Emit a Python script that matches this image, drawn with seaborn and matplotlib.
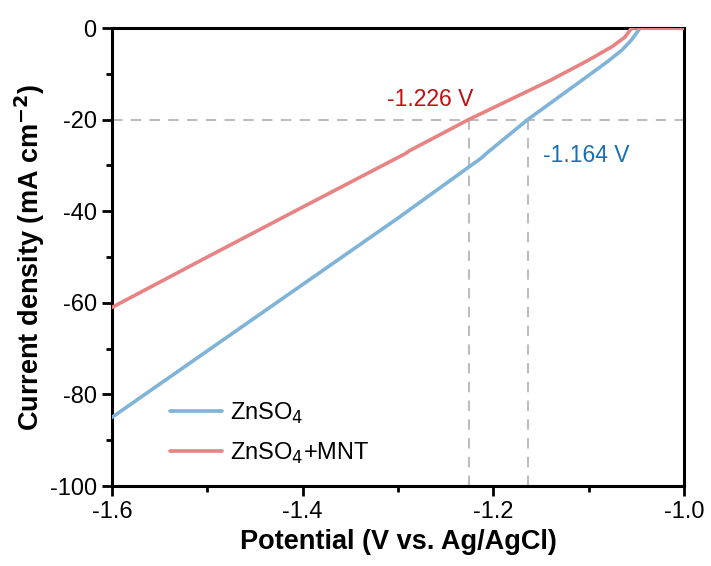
import matplotlib
matplotlib.use("Agg")
import matplotlib.pyplot as plt
import seaborn as sns
import pandas as pd
from matplotlib.ticker import MultipleLocator, FuncFormatter

sns.set_theme(style="white")
plt.rcParams['font.family'] = ['Liberation Sans', 'DejaVu Sans']

# ZnSO4
v_zn = [-1.600, -1.500, -1.400, -1.300, -1.212, -1.208, -1.164, -1.107, -1.080, -1.065, -1.055, -1.046, -1.000]
j_zn = [-85.0, -70.5, -56.0, -41.5, -28.3, -27.5, -20.0, -11.4, -7.3, -4.8, -2.6, 0.0, 0.0]
# ZnSO4+MNT
v_mnt = [-1.600, -1.500, -1.400, -1.292, -1.288, -1.226, -1.140, -1.100, -1.075, -1.062, -1.055, -1.000]
j_mnt = [-61.0, -50.0, -39.1, -27.4, -26.8, -20.0, -11.4, -7.0, -4.0, -2.0, 0.0, 0.0]

labels = ["ZnSO$_4$", "ZnSO$_4$+MNT"]
onset = [-1.164, -1.226]
onset_text = ["-1.164 V", "-1.226 V"]
ref_j = -20

df = pd.concat([
    pd.DataFrame({"V": v_zn, "J": j_zn, "s": labels[0]}),
    pd.DataFrame({"V": v_mnt, "J": j_mnt, "s": labels[1]}),
])

fig = plt.figure(figsize=(7.11, 5.66), dpi=100)
ax = fig.add_axes([0.1575, 0.1413, 0.8045, 0.8092])

grey = "#bdbdbd"
ax.axhline(ref_j, color=grey, lw=1.5, ls=(0, (5, 4)), zorder=1)
for v in onset:
    ax.plot([v, v], [-100, ref_j], color=grey, lw=1.5, ls=(0, (5, 4)), zorder=1)

sns.lineplot(data=df, x="V", y="J", hue="s", palette=["#7fb4d8", "#e88384"],
             linewidth=2.6, ax=ax, sort=False, estimator=None, zorder=3)

ax.set_xlim(-1.6, -1.0)
ax.set_ylim(-100, 0)
ax.xaxis.set_major_locator(MultipleLocator(0.2))
ax.xaxis.set_minor_locator(MultipleLocator(0.1))
ax.yaxis.set_major_locator(MultipleLocator(20))
ax.yaxis.set_minor_locator(MultipleLocator(10))
ax.tick_params(which="major", direction="out", length=7, width=2, labelsize=17, bottom=True, left=True,
               pad=4, colors="black", labelcolor="black")
ax.tick_params(which="minor", direction="out", length=4, width=2, bottom=True, left=True, colors="black")
for s in ax.spines.values():
    s.set_linewidth(2.2)
    s.set_color("black")
ax.xaxis.set_major_formatter(FuncFormatter(lambda x, p: f"{x:.1f}"))
ax.yaxis.set_major_formatter(FuncFormatter(lambda x, p: f"{x:.0f}"))

ax.set_xlabel("Potential (V vs. Ag/AgCl)", fontsize=19.5, fontweight="bold", labelpad=4, color="black")
ax.set_ylabel("Current density (mA cm$^{\\mathbf{-2}}$)", fontsize=19.5, fontweight="bold", labelpad=2, color="black")

ax.text(-1.148, -27.8, onset_text[0], color="#1a6fae", fontsize=16.5, ha="left", va="center")
ax.text(-1.312, -15.5, onset_text[1], color="#c01010", fontsize=16.5, ha="left", va="center")

leg = ax.legend(loc="lower left", bbox_to_anchor=(0.064, -0.002), frameon=False, fontsize=17,
                handlelength=2.2, handletextpad=0.35, labelspacing=0.62)
for h in leg.get_lines():
    h.set_linewidth(2.6)
for t in leg.get_texts():
    t.set_color("black")

fig.savefig("out.png", dpi=100)
